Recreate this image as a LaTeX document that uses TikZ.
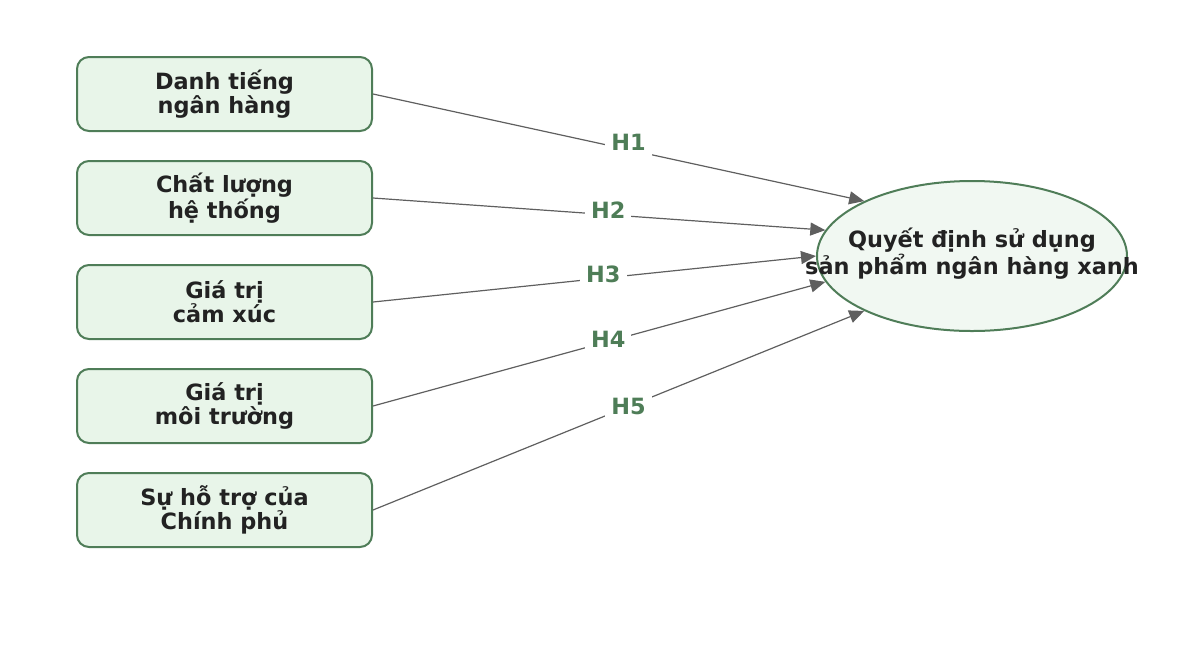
\documentclass[tikz,border=0pt]{standalone}
\usepackage{fontspec}
\setmainfont{DejaVu Sans}
\usetikzlibrary{arrows.meta,shapes.geometric}
\definecolor{boxfill}{HTML}{E8F5E9}
\definecolor{ellfill}{HTML}{F1F8F2}
\definecolor{boxline}{HTML}{4F7D58}
\definecolor{hlabel}{HTML}{4E7D57}
\definecolor{arrowgray}{HTML}{5F5F5F}
\definecolor{textdark}{HTML}{222222}

\begin{document}
\begin{tikzpicture}[x=0.5pt,y=-0.5pt,>={Triangle[length=7.5pt,width=6.5pt]},font=\bfseries\fontsize{11.2}{12}\selectfont,
    factor node/.style={rectangle,rounded corners=6pt,draw=boxline,line width=1pt,fill=boxfill,text=textdark,align=center,minimum width=147.5pt,minimum height=37pt,inner sep=0pt},
    outcome node/.style={ellipse,draw=boxline,line width=1pt,fill=ellfill,minimum width=155pt,minimum height=75pt,inner sep=0pt}]
    \useasboundingbox (0,0) rectangle (1200,644);

    \node[factor node] (1) at (224.5,94) {Danh tiếng\\ngân hàng};
    \node[factor node] (2) at (224.5,198) {Chất lượng\\hệ thống};
    \node[factor node] (3) at (224.5,302) {Giá trị\\cảm xúc};
    \node[factor node] (4) at (224.5,406) {Giá trị\\môi trường};
    \node[factor node] (5) at (224.5,510) {Sự hỗ trợ của\\Chính phủ};

    \node[outcome node] (6) at (972,256)
        [label={[text=textdark,align=center,yshift=1pt]center:Quyết định sử dụng\\sản phẩm ngân hàng xanh}] {};

    \path[every edge/.style={draw,->,color=arrowgray,line width=0.6pt},every node/.style={fill=white,text=hlabel,inner sep=3pt,pos=0.52}]
        (1.east) edge node[yshift=3.5pt]{H1} (6.153)
        (2.east) edge node[yshift=2.5pt]{H2} (6.170)
        (3.east) edge node[yshift=2pt]{H3} (6.180)
        (4.east) edge node[yshift=1pt]{H4} (6.190)
        (5.east) edge node{H5} (6.207)
        ;
\end{tikzpicture}
\end{document}
